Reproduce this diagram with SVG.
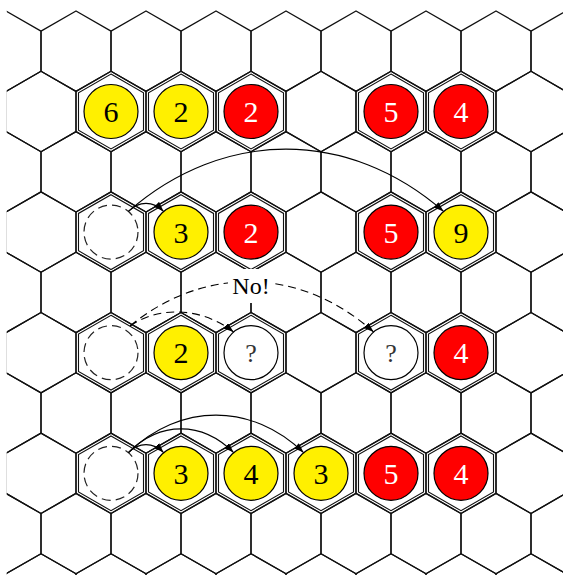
<svg xmlns="http://www.w3.org/2000/svg" xmlns:xlink="http://www.w3.org/1999/xlink" width="563" height="575" viewBox="0 0 563 575">
<style>
.grid{fill:none;stroke:#111;stroke-width:1.3;stroke-linejoin:round}
.inner{fill:#fff;stroke:#111;stroke-width:1.1}
.y{fill:#fff000;stroke:#000;stroke-width:1.2}
.r{fill:#ff0000;stroke:#000;stroke-width:1.2}
.w{fill:#fff;stroke:#000;stroke-width:1.2}
.d{fill:none;stroke:#222;stroke-width:1.2;stroke-dasharray:9 5.2}
.t{font-family:"Liberation Serif","DejaVu Serif",serif;font-size:30px;text-anchor:middle}
.tb{fill:#000}
.tw{fill:#fff}
.q{font-family:"Liberation Serif","DejaVu Serif",serif;font-size:26px;text-anchor:middle;fill:#333}
.a{fill:none;stroke:#000;stroke-width:1.1}
.ad{fill:none;stroke:#000;stroke-width:1.1;stroke-dasharray:8 5}
.lbl{font-family:"Liberation Serif","DejaVu Serif",serif;font-size:24px;text-anchor:middle;fill:#000}
</style>
<defs>
<polygon id="hex" points="0,-40.2 35,-20.1 35,20.1 0,40.2 -35,20.1 -35,-20.1"/>
<polygon id="ihex" points="0,-37.4 32.5,-18.7 32.5,18.7 0,37.4 -32.5,18.7 -32.5,-18.7"/>
<g id="hexrow" class="grid">
<use xlink:href="#hex" x="6"/><use xlink:href="#hex" x="76"/><use xlink:href="#hex" x="146"/>
<use xlink:href="#hex" x="216"/><use xlink:href="#hex" x="286"/><use xlink:href="#hex" x="356"/>
<use xlink:href="#hex" x="426"/><use xlink:href="#hex" x="496"/><use xlink:href="#hex" x="566"/>
</g>
<clipPath id="clip"><rect x="6.8" y="0" width="600" height="600"/></clipPath>
<marker id="arr" markerUnits="userSpaceOnUse" markerWidth="10" markerHeight="8" refX="10" refY="3.5" orient="auto">
<path d="M0,0 L10,3.5 L0,7 z" fill="#000"/>
</marker>
</defs>
<g id="grid" clip-path="url(#clip)">
<use xlink:href="#hexrow" transform="translate(0,51.2)"/>
<use xlink:href="#hexrow" transform="translate(35,111.5)"/>
<use xlink:href="#hexrow" transform="translate(0,171.8)"/>
<use xlink:href="#hexrow" transform="translate(35,232.1)"/>
<use xlink:href="#hexrow" transform="translate(0,292.4)"/>
<use xlink:href="#hexrow" transform="translate(35,352.7)"/>
<use xlink:href="#hexrow" transform="translate(0,413)"/>
<use xlink:href="#hexrow" transform="translate(35,473.3)"/>
<use xlink:href="#hexrow" transform="translate(0,533.6)"/>
<use xlink:href="#hexrow" transform="translate(35,593.9)"/>
</g>
<g id="row2">
<g id="c2a" transform="translate(111,111.5)"><use xlink:href="#ihex" class="inner"/><circle r="27" class="y"/><text y="10.5" class="t tb">6</text></g>
<g id="c2b" transform="translate(181,111.5)"><use xlink:href="#ihex" class="inner"/><circle r="27" class="y"/><text y="10.5" class="t tb">2</text></g>
<g id="c2c" transform="translate(251,111.5)"><use xlink:href="#ihex" class="inner"/><circle r="27" class="r"/><text y="10.5" class="t tw">2</text></g>
<g id="c2e" transform="translate(391,111.5)"><use xlink:href="#ihex" class="inner"/><circle r="27" class="r"/><text y="10.5" class="t tw">5</text></g>
<g id="c2f" transform="translate(461,111.5)"><use xlink:href="#ihex" class="inner"/><circle r="27" class="r"/><text y="10.5" class="t tw">4</text></g>
</g>
<g id="row4">
<g id="c4a" transform="translate(111,232.1)"><use xlink:href="#ihex" class="inner"/><circle r="27" class="d"/></g>
<g id="c4b" transform="translate(181,232.1)"><use xlink:href="#ihex" class="inner"/><circle r="27" class="y"/><text y="10.5" class="t tb">3</text></g>
<g id="c4c" transform="translate(251,232.1)"><use xlink:href="#ihex" class="inner"/><circle r="27" class="r"/><text y="10.5" class="t tw">2</text></g>
<g id="c4e" transform="translate(391,232.1)"><use xlink:href="#ihex" class="inner"/><circle r="27" class="r"/><text y="10.5" class="t tw">5</text></g>
<g id="c4f" transform="translate(461,232.1)"><use xlink:href="#ihex" class="inner"/><circle r="27" class="y"/><text y="10.5" class="t tb">9</text></g>
</g>
<g id="row6">
<g id="c6a" transform="translate(111,352.7)"><use xlink:href="#ihex" class="inner"/><circle r="27" class="d"/></g>
<g id="c6b" transform="translate(181,352.7)"><use xlink:href="#ihex" class="inner"/><circle r="27" class="y"/><text y="10.5" class="t tb">2</text></g>
<g id="c6c" transform="translate(251,352.7)"><use xlink:href="#ihex" class="inner"/><circle r="27" class="w"/><text y="9" class="q">?</text></g>
<g id="c6e" transform="translate(391,352.7)"><use xlink:href="#ihex" class="inner"/><circle r="27" class="w"/><text y="9" class="q">?</text></g>
<g id="c6f" transform="translate(461,352.7)"><use xlink:href="#ihex" class="inner"/><circle r="27" class="r"/><text y="10.5" class="t tw">4</text></g>
</g>
<g id="row8">
<g id="c8a" transform="translate(111,473.3)"><use xlink:href="#ihex" class="inner"/><circle r="27" class="d"/></g>
<g id="c8b" transform="translate(181,473.3)"><use xlink:href="#ihex" class="inner"/><circle r="27" class="y"/><text y="10.5" class="t tb">3</text></g>
<g id="c8c" transform="translate(251,473.3)"><use xlink:href="#ihex" class="inner"/><circle r="27" class="y"/><text y="10.5" class="t tb">4</text></g>
<g id="c8d" transform="translate(321,473.3)"><use xlink:href="#ihex" class="inner"/><circle r="27" class="y"/><text y="10.5" class="t tb">3</text></g>
<g id="c8e" transform="translate(391,473.3)"><use xlink:href="#ihex" class="inner"/><circle r="27" class="r"/><text y="10.5" class="t tw">5</text></g>
<g id="c8f" transform="translate(461,473.3)"><use xlink:href="#ihex" class="inner"/><circle r="27" class="r"/><text y="10.5" class="t tw">4</text></g>
</g>
<g id="connectors" marker-end="url(#arr)">
<path class="a" d="M128.4,211.4 C139,200.7 153,200.7 163.6,211.4"/>
<path class="a" d="M128.4,211.4 C223.4,128.4 348.6,128.4 443.6,211.4"/>
<path class="a" d="M128.4,452.6 C139,441.9 153,441.9 163.6,452.6"/>
<path class="a" d="M128.4,452.6 C160,421 202,421 233.6,452.6"/>
<path class="a" d="M128.4,452.6 C180,402.6 252,402.6 303.6,452.6"/>
<path class="ad" d="M130,326 C160,305 203,308 233.6,332"/>
<path class="ad" d="M130,326 C203,266 300,266 373.6,332"/>
</g>
<g id="label">
<rect x="228" y="269" width="46" height="34" fill="#fff"/>
<text x="251" y="294" class="lbl">No!</text>
</g>
</svg>
